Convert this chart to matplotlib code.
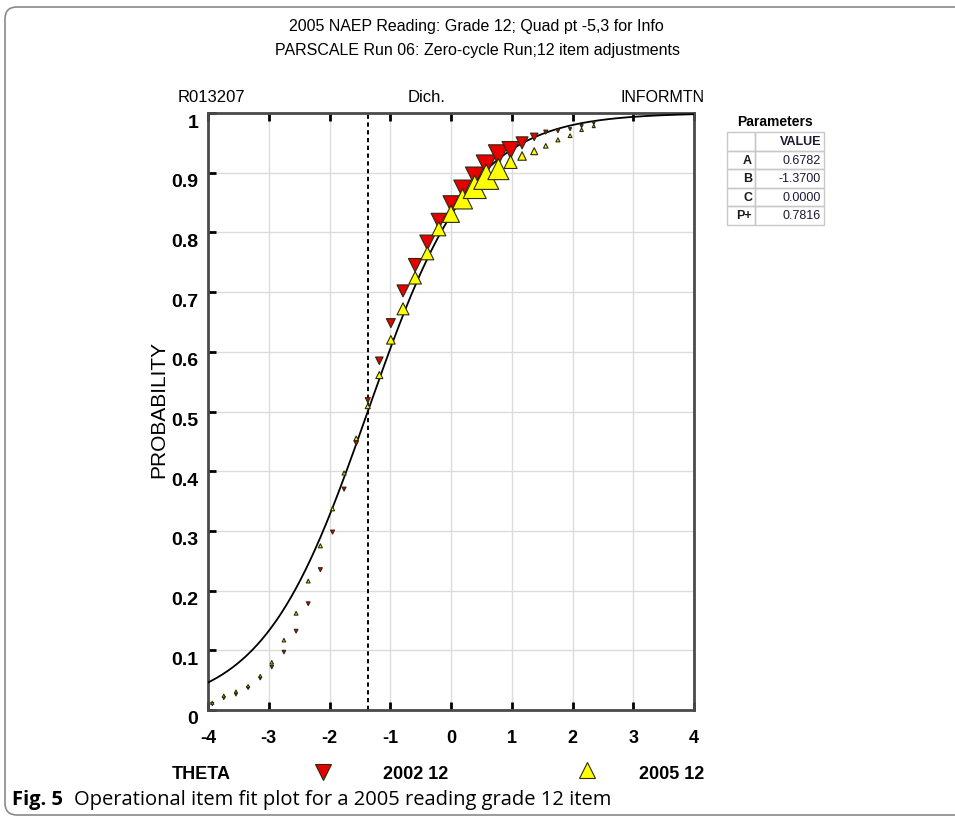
import matplotlib
matplotlib.use("Agg")
import matplotlib.pyplot as plt
import numpy as np
import matplotlib.transforms as mtransforms
from matplotlib.patches import FancyBboxPatch, Rectangle
from matplotlib.lines import Line2D

plt.rcParams['font.family'] = ['Liberation Sans', 'DejaVu Sans']

# ---------------- data ----------------
title_lines = ["2005 NAEP Reading: Grade 12; Quad pt -5,3 for Info",
               "PARSCALE Run 06: Zero-cycle Run;12 item adjustments"]
item_id = "R013207"
item_type = "Dich."
item_block = "INFORMTN"

param_names = ["A", "B", "C", "P+"]
param_values = ["0.6782", "-1.3700", "0.0000", "0.7816"]
A, B, C = 0.6782, -1.3700, 0.0

theta = [-3.93, -3.74, -3.54, -3.34, -3.14, -2.95, -2.75, -2.55, -2.35, -2.15,
         -1.95, -1.76, -1.56, -1.37, -1.18, -0.99, -0.79, -0.59, -0.39, -0.20,
         0.00, 0.19, 0.39, 0.58, 0.78, 0.98, 1.17, 1.37, 1.56, 1.76, 1.96, 2.15, 2.35]
p2002 = [0.010, 0.020, 0.026, 0.037, 0.053, 0.072, 0.097, 0.132, 0.178, 0.235,
         0.298, 0.370, 0.447, 0.519, 0.585, 0.648, 0.702, 0.745, 0.783, 0.819,
         0.848, 0.873, 0.894, 0.913, 0.930, 0.938, 0.950, 0.960, 0.968, 0.970, 0.973, 0.978, 0.983]
p2005 = [0.012, 0.024, 0.031, 0.040, 0.057, 0.080, 0.117, 0.162, 0.216, 0.275,
         0.337, 0.397, 0.455, 0.509, 0.561, 0.620, 0.672, 0.724, 0.765, 0.806,
         0.831, 0.856, 0.876, 0.893, 0.906, 0.918, 0.928, 0.936, 0.945, 0.955, 0.962, 0.972, 0.978]
# relative group weights (drive marker size)
w2002 = [0.12, 0.12, 0.12, 0.12, 0.12, 0.14, 0.14, 0.15, 0.15, 0.16,
         0.16, 0.16, 0.18, 0.20, 0.30, 0.36, 0.48, 0.54, 0.60, 0.62,
         0.64, 0.70, 0.74, 0.80, 0.80, 0.68, 0.48, 0.30, 0.16, 0.14, 0.12, 0.12, 0.12]
w2005 = [0.12, 0.12, 0.12, 0.12, 0.12, 0.14, 0.14, 0.15, 0.15, 0.16,
         0.16, 0.16, 0.18, 0.20, 0.28, 0.34, 0.48, 0.50, 0.52, 0.56,
         0.68, 0.80, 0.92, 1.00, 0.84, 0.52, 0.34, 0.28, 0.18, 0.16, 0.15, 0.14, 0.12]

x_ticks = [-4, -3, -2, -1, 0, 1, 2, 3, 4]
y_ticks = [0, 0.1, 0.2, 0.3, 0.4, 0.5, 0.6, 0.7, 0.8, 0.9, 1.0]
y_labels = ["0", "0.1", "0.2", "0.3", "0.4", "0.5", "0.6", "0.7", "0.8", "0.9", "1"]
legend_labels = ["2002 12", "2005 12"]
caption_head = "Fig. 5"
caption_text = "Operational item fit plot for a 2005 reading grade 12 item"

# ---------------- figure ----------------
W, H = 955, 820
fig = plt.figure(figsize=(W / 100, H / 100), dpi=100)

def fx(px):
    return px / W

def fy(py):
    return 1 - py / H

# overlay in pixel coordinates for decorations
ov = fig.add_axes([0, 0, 1, 1], zorder=0)
ov.set_xlim(0, W)
ov.set_ylim(H, 0)
ov.axis('off')
ov.patch.set_alpha(0)

ov.add_patch(FancyBboxPatch((5, 8), 1000, 808, boxstyle="round,pad=0,rounding_size=12",
                            fill=False, ec='#8a8a8a', lw=1.2))

ax = fig.add_axes([fx(208), fy(711), (694 - 208) / W, (711 - 114) / H], zorder=2)
ax.set_xlim(-4, 4)
ax.set_ylim(0, 1)

red = '#e60000'
yel = '#ffff00'
edge = '#2a2a10'
MAXPX = 25  # marker width in px at weight 1

tc = np.linspace(-4, 4, 400)
pc = C + (1 - C) / (1 + np.exp(-1.7 * A * (tc - B)))
ax.plot(tc, pc, color='black', lw=1.3, zorder=3)
ax.axvline(B, color='black', ls=(0, (2.2, 1.8)), lw=1.4, zorder=2)

s2002 = (np.array(w2002) * MAXPX * 0.72) ** 2
s2005 = (np.array(w2005) * MAXPX * 0.72) ** 2
ax.scatter(theta, p2002, s=s2002, marker='v', c=red, edgecolors=edge, linewidths=0.8, zorder=4)
ax.scatter(theta, p2005, s=s2005, marker='^', c=yel, edgecolors=edge, linewidths=0.8, zorder=5)

ax.set_xticks(x_ticks)
ax.set_xticklabels([str(t) for t in x_ticks], fontsize=13, fontweight='bold')
ax.set_yticks(y_ticks)
ax.set_yticklabels(y_labels, fontsize=14, fontweight='bold')
ax.tick_params(axis='x', direction='in', length=6, width=2, top=True, pad=14)
ax.tick_params(axis='y', direction='in', length=6, width=2, right=False, pad=7)
off = mtransforms.ScaledTranslation(0, -0.07, fig.dpi_scale_trans)
for lab in ax.get_yticklabels():
    lab.set_transform(lab.get_transform() + off)
ax.grid(True, color='#dcdcdc', lw=1)
ax.set_axisbelow(True)
for sp in ax.spines.values():
    sp.set_color('#4a4a4a')
    sp.set_linewidth(2)

# titles / labels
fig.text(fx(476), fy(27), title_lines[0], ha='center', va='center', fontsize=11.5)
fig.text(fx(477), fy(51), title_lines[1], ha='center', va='center', fontsize=11.5)
fig.text(fx(211), fy(98), item_id, ha='center', va='center', fontsize=12)
fig.text(fx(427), fy(98), item_type, ha='center', va='center', fontsize=12)
fig.text(fx(662), fy(98), item_block, ha='center', va='center', fontsize=11.5)
fig.text(fx(159), fy(410), "PROBABILITY", rotation=90, ha='center', va='center', fontsize=15)

# parameter table
fig.text(fx(775), fy(122), "Parameters", ha='center', va='center', fontsize=10, fontweight='bold')
tl, tm, tr = 727, 755, 824
rows = ["VALUE"] + param_values
row_h = 18.5
top = 133
for i, val in enumerate(rows):
    y0 = top + i * row_h
    ov.add_patch(Rectangle((tl, y0), tm - tl, row_h, fill=False, ec='#c8c8c8', lw=1))
    ov.add_patch(Rectangle((tm, y0), tr - tm, row_h, fill=False, ec='#c8c8c8', lw=1))
    yc = y0 + row_h / 2
    if i == 0:
        ov.text(tr - 3, yc, val, ha='right', va='center', fontsize=9, fontweight='bold', color='#1a1a33')
    else:
        ov.text(tm - 3, yc, param_names[i - 1], ha='right', va='center', fontsize=9,
                fontweight='bold', color='#1a1a1a')
        ov.text(tr - 3, yc, val, ha='right', va='center', fontsize=9, color='#1a1a33')

# bottom legend row
fig.text(fx(201), fy(775), "THETA", ha='center', va='center', fontsize=13, fontweight='bold')
ov.add_line(Line2D([323], [773], marker='v', markersize=11, mfc=red, mec=edge, mew=0.8, ls='none'))
fig.text(fx(416), fy(775), legend_labels[0], ha='center', va='center', fontsize=13, fontweight='bold')
ov.add_line(Line2D([587], [771], marker='^', markersize=11, mfc=yel, mec=edge, mew=0.8, ls='none'))
fig.text(fx(672), fy(775), legend_labels[1], ha='center', va='center', fontsize=13, fontweight='bold')

# caption
fig.text(fx(12), fy(800), caption_head, ha='left', va='center', fontsize=14.5, fontweight='bold',
         family=['Open Sans', 'DejaVu Sans'])
fig.text(fx(74), fy(800), caption_text, ha='left', va='center', fontsize=14.5,
         family=['Open Sans', 'DejaVu Sans'])

fig.savefig("out.png", dpi=100)
